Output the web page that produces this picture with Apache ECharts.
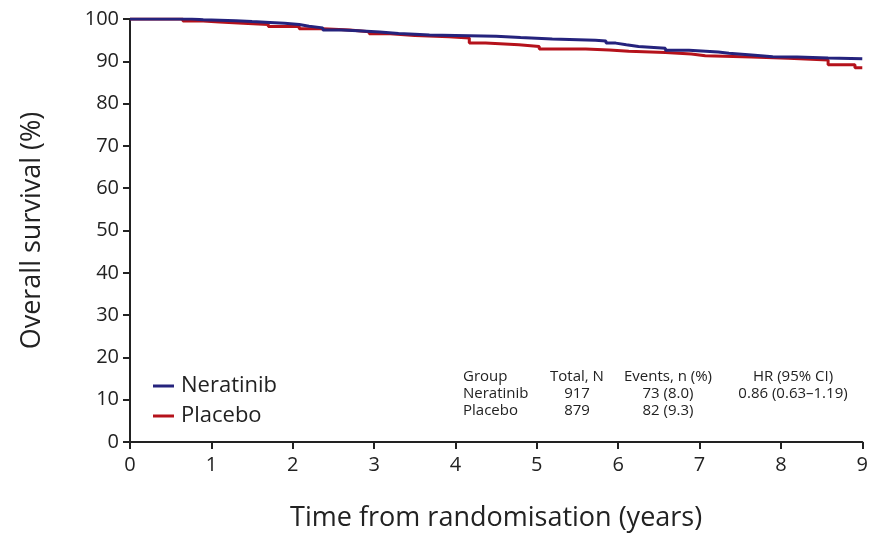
<!DOCTYPE html>
<html>
<head>
<meta charset="utf-8">
<script src="https://cdn.jsdelivr.net/npm/echarts@6/dist/echarts.min.js"></script>
<style>
  html, body { margin: 0; padding: 0; background: #fff; }
  #chart { width: 871px; height: 537px; }
</style>
</head>
<body>
<div id="chart"></div>
<script>
// 曲线数据 (时间, 生存率)
const neraTime = [0, 0.76, 0.9, 1.1, 1.3, 1.5, 1.72, 1.9, 2.08, 2.2, 2.37, 2.6, 2.8, 3.07, 3.3, 3.5, 3.68, 4.0, 4.5, 4.8, 5.19, 5.72, 5.85, 5.97, 6.1, 6.25, 6.58, 6.87, 7.23, 7.36, 7.64, 7.9, 8.2, 8.58, 9.0];
const neraSurv = [100, 99.8, 99.7, 99.6, 99.4, 99.2, 99.0, 98.7, 98.3, 97.9, 97.4, 97.2, 96.9, 96.6, 96.4, 96.2, 96.1, 95.9, 95.6, 95.3, 95.0, 94.8, 94.3, 93.9, 93.5, 93.1, 92.6, 92.2, 91.9, 91.5, 91.1, 91.0, 90.8, 90.6, 90.6];

const placTime = [0, 0.65, 0.9, 1.1, 1.39, 1.7, 2.08, 2.37, 2.7, 2.94, 3.2, 3.5, 3.92, 4.17, 4.37, 4.78, 5.03, 5.6, 5.89, 6.13, 6.58, 6.9, 7.07, 7.64, 8.09, 8.58, 8.91, 9.0];
const placSurv = [100, 99.5, 99.3, 99.0, 98.7, 98.2, 97.7, 97.4, 97.0, 96.5, 96.1, 95.8, 95.5, 94.3, 93.9, 93.5, 92.9, 92.7, 92.4, 92.1, 91.7, 91.3, 91.0, 90.7, 90.3, 89.2, 88.5, 88.5];

// 表格文字
const tableHeader = ['Group', 'Total, N', 'Events, n (%)', 'HR (95% CI)'];
const tableRows = [
    ['Neratinib', '917', '73 (8.0)', '0.86 (0.63\u20131.19)'],
    ['Placebo', '879', '82 (9.3)', '']
];

const FONT = '"Open Sans", Lato, sans-serif';
const chart = echarts.init(document.getElementById('chart'));

function pairs(xs, ys) {
    return xs.map((x, i) => [x, ys[i]]);
}

// 表格 graphic
const colX = [463, 577, 668, 793];
const colAlign = ['left', 'center', 'center', 'center'];
const rowY = [377, 394, 411];
const tableGraphics = [];
[tableHeader].concat(tableRows).forEach((row, r) => {
    row.forEach((txt, c) => {
        if (!txt) return;
        tableGraphics.push({
            type: 'text',
            x: colX[c], y: rowY[r],
            style: {
                text: txt,
                fill: '#222',
                font: '15px ' + FONT,
                textAlign: colAlign[c],
                textVerticalAlign: 'middle'
            }
        });
    });
});

chart.setOption({
    animation: false,
    backgroundColor: '#fff',
    grid: { left: 130, right: 7, top: 19, bottom: 94 },
    legend: {
        orient: 'vertical',
        left: 148, top: 370,
        itemWidth: 21, itemHeight: 3,
        itemGap: 8,
        icon: 'rect',
        textStyle: { fontSize: 22, color: '#222', fontFamily: FONT, padding: [0, 0, 0, 2] },
        data: ['Neratinib', 'Placebo']
    },
    xAxis: {
        type: 'value',
        min: 0, max: 9, interval: 1,
        name: 'Time from randomisation (years)',
        nameLocation: 'middle',
        nameGap: 63,
        nameTextStyle: { fontSize: 27, color: '#222', fontFamily: FONT },
        axisLine: { lineStyle: { color: '#222', width: 2 } },
        axisTick: { length: 7, lineStyle: { color: '#222', width: 2 } },
        axisLabel: { fontSize: 20, color: '#222', fontFamily: FONT, margin: 13 },
        splitLine: { show: false }
    },
    yAxis: {
        type: 'value',
        min: 0, max: 100, interval: 10,
        name: 'Overall survival (%)',
        nameLocation: 'middle',
        nameGap: 84,
        nameTextStyle: { fontSize: 27, color: '#222', fontFamily: FONT },
        axisLine: { show: true, lineStyle: { color: '#222', width: 2 } },
        axisTick: { show: true, length: 7, lineStyle: { color: '#222', width: 2 } },
        axisLabel: { fontSize: 20, color: '#222', fontFamily: FONT, margin: 11 },
        splitLine: { show: false }
    },
    series: [
        {
            name: 'Neratinib',
            type: 'line',
            step: 'end',
            symbol: 'none',
            color: '#25237d',
            lineStyle: { width: 3, color: '#25237d' },
            data: pairs(neraTime, neraSurv),
            z: 3
        },
        {
            name: 'Placebo',
            type: 'line',
            step: 'end',
            symbol: 'none',
            color: '#b5121b',
            lineStyle: { width: 3, color: '#b5121b' },
            data: pairs(placTime, placSurv),
            z: 2
        }
    ],
    graphic: tableGraphics
});
</script>
</body>
</html>
